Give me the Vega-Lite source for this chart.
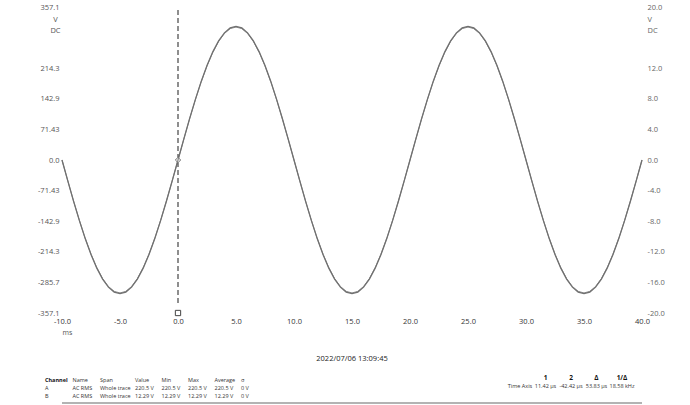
{
  "$schema": "https://vega.github.io/schema/vega-lite/v6.json",
  "padding": {"left": 37, "top": 3, "right": 5, "bottom": 0},
  "background": "white",
  "spacing": 19,
  "config": {
    "view": {"stroke": null},
    "font": "Open Sans",
    "axis": {"grid": false, "domain": false, "ticks": false, "labelOverlap": false}
  },
  "datasets": {
    "wave": [
      {"t": -10, "a": 0, "b": 0}, {"t": -9.5, "a": -48.8, "b": -2.72}, {"t": -9, "a": -96.4, "b": -5.37}, {"t": -8.5, "a": -141.6, "b": -7.89}, {"t": -8, "a": -183.4, "b": -10.22}, {"t": -7.5, "a": -220.6, "b": -12.29}, {"t": -7, "a": -252.4, "b": -14.06}, {"t": -6.5, "a": -278.0, "b": -15.49}, {"t": -6, "a": -296.7, "b": -16.53}, {"t": -5.5, "a": -308.2, "b": -17.17},
      {"t": -5, "a": -312, "b": -17.38}, {"t": -4.5, "a": -308.2, "b": -17.17}, {"t": -4, "a": -296.7, "b": -16.53}, {"t": -3.5, "a": -278.0, "b": -15.49}, {"t": -3, "a": -252.4, "b": -14.06}, {"t": -2.5, "a": -220.6, "b": -12.29}, {"t": -2, "a": -183.4, "b": -10.22}, {"t": -1.5, "a": -141.6, "b": -7.89}, {"t": -1, "a": -96.4, "b": -5.37}, {"t": -0.5, "a": -48.8, "b": -2.72},
      {"t": 0, "a": 0, "b": 0}, {"t": 0.5, "a": 48.8, "b": 2.72}, {"t": 1, "a": 96.4, "b": 5.37}, {"t": 1.5, "a": 141.6, "b": 7.89}, {"t": 2, "a": 183.4, "b": 10.22}, {"t": 2.5, "a": 220.6, "b": 12.29}, {"t": 3, "a": 252.4, "b": 14.06}, {"t": 3.5, "a": 278.0, "b": 15.49}, {"t": 4, "a": 296.7, "b": 16.53}, {"t": 4.5, "a": 308.2, "b": 17.17},
      {"t": 5, "a": 312, "b": 17.38}, {"t": 5.5, "a": 308.2, "b": 17.17}, {"t": 6, "a": 296.7, "b": 16.53}, {"t": 6.5, "a": 278.0, "b": 15.49}, {"t": 7, "a": 252.4, "b": 14.06}, {"t": 7.5, "a": 220.6, "b": 12.29}, {"t": 8, "a": 183.4, "b": 10.22}, {"t": 8.5, "a": 141.6, "b": 7.89}, {"t": 9, "a": 96.4, "b": 5.37}, {"t": 9.5, "a": 48.8, "b": 2.72},
      {"t": 10, "a": 0, "b": 0}, {"t": 10.5, "a": -48.8, "b": -2.72}, {"t": 11, "a": -96.4, "b": -5.37}, {"t": 11.5, "a": -141.6, "b": -7.89}, {"t": 12, "a": -183.4, "b": -10.22}, {"t": 12.5, "a": -220.6, "b": -12.29}, {"t": 13, "a": -252.4, "b": -14.06}, {"t": 13.5, "a": -278.0, "b": -15.49}, {"t": 14, "a": -296.7, "b": -16.53}, {"t": 14.5, "a": -308.2, "b": -17.17},
      {"t": 15, "a": -312, "b": -17.38}, {"t": 15.5, "a": -308.2, "b": -17.17}, {"t": 16, "a": -296.7, "b": -16.53}, {"t": 16.5, "a": -278.0, "b": -15.49}, {"t": 17, "a": -252.4, "b": -14.06}, {"t": 17.5, "a": -220.6, "b": -12.29}, {"t": 18, "a": -183.4, "b": -10.22}, {"t": 18.5, "a": -141.6, "b": -7.89}, {"t": 19, "a": -96.4, "b": -5.37}, {"t": 19.5, "a": -48.8, "b": -2.72},
      {"t": 20, "a": 0, "b": 0}, {"t": 20.5, "a": 48.8, "b": 2.72}, {"t": 21, "a": 96.4, "b": 5.37}, {"t": 21.5, "a": 141.6, "b": 7.89}, {"t": 22, "a": 183.4, "b": 10.22}, {"t": 22.5, "a": 220.6, "b": 12.29}, {"t": 23, "a": 252.4, "b": 14.06}, {"t": 23.5, "a": 278.0, "b": 15.49}, {"t": 24, "a": 296.7, "b": 16.53}, {"t": 24.5, "a": 308.2, "b": 17.17},
      {"t": 25, "a": 312, "b": 17.38}, {"t": 25.5, "a": 308.2, "b": 17.17}, {"t": 26, "a": 296.7, "b": 16.53}, {"t": 26.5, "a": 278.0, "b": 15.49}, {"t": 27, "a": 252.4, "b": 14.06}, {"t": 27.5, "a": 220.6, "b": 12.29}, {"t": 28, "a": 183.4, "b": 10.22}, {"t": 28.5, "a": 141.6, "b": 7.89}, {"t": 29, "a": 96.4, "b": 5.37}, {"t": 29.5, "a": 48.8, "b": 2.72},
      {"t": 30, "a": 0, "b": 0}, {"t": 30.5, "a": -48.8, "b": -2.72}, {"t": 31, "a": -96.4, "b": -5.37}, {"t": 31.5, "a": -141.6, "b": -7.89}, {"t": 32, "a": -183.4, "b": -10.22}, {"t": 32.5, "a": -220.6, "b": -12.29}, {"t": 33, "a": -252.4, "b": -14.06}, {"t": 33.5, "a": -278.0, "b": -15.49}, {"t": 34, "a": -296.7, "b": -16.53}, {"t": 34.5, "a": -308.2, "b": -17.17},
      {"t": 35, "a": -312, "b": -17.38}, {"t": 35.5, "a": -308.2, "b": -17.17}, {"t": 36, "a": -296.7, "b": -16.53}, {"t": 36.5, "a": -278.0, "b": -15.49}, {"t": 37, "a": -252.4, "b": -14.06}, {"t": 37.5, "a": -220.6, "b": -12.29}, {"t": 38, "a": -183.4, "b": -10.22}, {"t": 38.5, "a": -141.6, "b": -7.89}, {"t": 39, "a": -96.4, "b": -5.37}, {"t": 39.5, "a": -48.8, "b": -2.72},
      {"t": 40, "a": 0, "b": 0}
    ],
    "cursor": [{"t": 0, "level": 0}],
    "leftTable": [
      {"row": 1, "col": "Channel", "text": "Channel"}, {"row": 1, "col": "Name", "text": "Name"}, {"row": 1, "col": "Span", "text": "Span"}, {"row": 1, "col": "Value", "text": "Value"}, {"row": 1, "col": "Min", "text": "Min"}, {"row": 1, "col": "Max", "text": "Max"}, {"row": 1, "col": "Average", "text": "Average"}, {"row": 1, "col": "σ", "text": "σ"},
      {"row": 2, "col": "Channel", "text": "A"}, {"row": 2, "col": "Name", "text": "AC RMS"}, {"row": 2, "col": "Span", "text": "Whole trace"}, {"row": 2, "col": "Value", "text": "220.5 V"}, {"row": 2, "col": "Min", "text": "220.5 V"}, {"row": 2, "col": "Max", "text": "220.5 V"}, {"row": 2, "col": "Average", "text": "220.5 V"}, {"row": 2, "col": "σ", "text": "0 V"},
      {"row": 3, "col": "Channel", "text": "B"}, {"row": 3, "col": "Name", "text": "AC RMS"}, {"row": 3, "col": "Span", "text": "Whole trace"}, {"row": 3, "col": "Value", "text": "12.29 V"}, {"row": 3, "col": "Min", "text": "12.29 V"}, {"row": 3, "col": "Max", "text": "12.29 V"}, {"row": 3, "col": "Average", "text": "12.29 V"}, {"row": 3, "col": "σ", "text": "0 V"}
    ],
    "rightTable": [
      {"row": 1, "col": "1", "text": "1"}, {"row": 1, "col": "2", "text": "2"}, {"row": 1, "col": "Δ", "text": "Δ"}, {"row": 1, "col": "1/Δ", "text": "1/Δ"},
      {"row": 2, "col": "label", "text": "Time Axis"}, {"row": 2, "col": "1", "text": "11.42 μs"}, {"row": 2, "col": "2", "text": "-42.42 μs"}, {"row": 2, "col": "Δ", "text": "53.83 μs"}, {"row": 2, "col": "1/Δ", "text": "18.58 kHz"}
    ],
    "divider": [{"row": 3.875}]
  },
  "vconcat": [
    {
      "width": 580,
      "height": 306,
      "layer": [
        {
          "layer": [
            {
              "data": {"name": "wave"},
              "mark": {"type": "line", "color": "#707070", "strokeWidth": 1.3},
              "encoding": {
                "x": {
                  "field": "t", "type": "quantitative",
                  "scale": {"domain": [-10, 40], "nice": false, "zero": false},
                  "axis": {
                    "values": [-10, -5, 0, 5, 10, 15, 20, 25, 30, 35, 40],
                    "labelExpr": "(datum.value < 0 ? '-' : '') + format(abs(datum.value), '.1f')",
                    "labelFontSize": 7.5, "labelColor": "#333", "labelPadding": 4, "labelOverlap": false, "labelFlush": false,
                    "title": "ms", "titleX": 5, "titleY": 19, "titleAlign": "center", "titleBaseline": "middle",
                    "titleFontSize": 7, "titleFontWeight": "normal", "titleColor": "#555"
                  }
                },
                "y": {
                  "field": "a", "type": "quantitative",
                  "scale": {"domain": [-357.1, 357.1], "nice": false, "zero": false},
                  "axis": {
                    "orient": "left",
                    "values": [357.1, 214.3, 142.9, 71.43, 0, -71.43, -142.9, -214.3, -285.7, -357.1],
                    "labelExpr": "datum.value == 0 ? '0.0' : (datum.value < 0 ? '-' : '') + format(abs(datum.value), '.4~r')",
                    "labelOverlap": false,
                    "labelFontSize": 7.5, "labelColor": "#555", "labelPadding": 3,
                    "title": ["V", "DC"], "titleAngle": 0, "titleX": -7, "titleY": 8, "titleAlign": "center", "titleBaseline": "top",
                    "titleFontSize": 7.5, "titleFontWeight": "normal", "titleColor": "#555", "titleLineHeight": 11
                  }
                }
              }
            },
            {
              "data": {"name": "cursor"},
              "mark": {"type": "rule", "color": "#444", "strokeDash": [5, 3], "strokeWidth": 1.2},
              "encoding": {"x": {"field": "t", "type": "quantitative"}, "y": {"datum": 350, "axis": null}, "y2": {"datum": -335}}
            },
            {
              "data": {"name": "cursor"},
              "mark": {"type": "point", "shape": "diamond", "size": 30, "filled": true, "fill": "#e0e0e0", "stroke": "#888", "strokeWidth": 1, "opacity": 1},
              "encoding": {"x": {"field": "t", "type": "quantitative"}, "y": {"field": "level", "type": "quantitative", "axis": null}}
            },
            {
              "data": {"name": "cursor"},
              "mark": {"type": "point", "shape": "square", "size": 28, "filled": true, "fill": "white", "stroke": "#444", "strokeWidth": 1, "opacity": 1},
              "encoding": {"x": {"field": "t", "type": "quantitative"}, "y": {"datum": -357.1, "axis": null}}
            }
          ],
          "resolve": {"axis": {"y": "independent"}}
        },
        {
          "data": {"name": "wave"},
          "mark": {"type": "line", "color": "#707070", "strokeWidth": 0.8},
          "encoding": {
            "x": {"field": "t", "type": "quantitative"},
            "y": {
              "field": "b", "type": "quantitative",
              "scale": {"domain": [-20, 20], "nice": false, "zero": false},
              "axis": {
                "orient": "right",
                "values": [20, 12, 8, 4, 0, -4, -8, -12, -16, -20],
                "labelExpr": "(datum.value < 0 ? '-' : '') + format(abs(datum.value), '.1f')",
                "labelOverlap": false,
                "labelFontSize": 7.5, "labelColor": "#666", "labelPadding": 5,
                "title": ["V", "DC"], "titleAngle": 0, "titleX": 5, "titleY": 8, "titleAlign": "left", "titleBaseline": "top",
                "titleFontSize": 7.5, "titleFontWeight": "normal", "titleColor": "#666", "titleLineHeight": 11
              }
            }
          }
        }
      ],
      "resolve": {"scale": {"y": "independent"}}
    },
    {
      "width": 580,
      "height": 23,
      "title": {"text": "2022/07/06 13:09:45", "anchor": "middle", "frame": "group", "fontSize": 7.5, "fontWeight": "normal", "color": "#222", "baseline": "bottom", "offset": 5},
      "layer": [
        {
          "data": {"name": "leftTable"},
          "transform": [{"filter": "indexof(['Channel','Name','Span'], datum.col) >= 0 && !(datum.row == 1 && datum.col == 'Channel')"}],
          "mark": {"type": "text", "align": "left", "baseline": "middle", "fontSize": 5.5, "color": "#333"},
          "encoding": {
            "x": {"field": "col", "type": "nominal", "scale": {"type": "point", "domain": ["Channel", "Name", "Span"], "range": [-17, 38], "padding": 0}, "axis": null},
            "y": {"field": "row", "type": "quantitative", "scale": {"domain": [1, 3.875], "reverse": true, "nice": false, "zero": false}, "axis": null},
            "text": {"field": "text"}
          }
        },
        {
          "data": {"name": "leftTable"},
          "transform": [{"filter": "datum.row == 1 && datum.col == 'Channel'"}],
          "mark": {"type": "text", "align": "left", "baseline": "middle", "fontSize": 5.5, "fontWeight": "bold", "color": "#111"},
          "encoding": {
            "x": {"field": "col", "type": "nominal", "scale": {"type": "point", "domain": ["Channel", "Name", "Span"], "range": [-17, 38], "padding": 0}, "axis": null},
            "y": {"field": "row", "type": "quantitative", "axis": null},
            "text": {"field": "text"}
          }
        },
        {
          "data": {"name": "leftTable"},
          "transform": [{"filter": "indexof(['Value','Min','Max','Average','σ'], datum.col) >= 0"}],
          "mark": {"type": "text", "align": "left", "baseline": "middle", "fontSize": 5.5, "color": "#333"},
          "encoding": {
            "x": {"field": "col", "type": "nominal", "scale": {"type": "point", "domain": ["Value", "Min", "Max", "Average", "σ"], "range": [73, 179], "padding": 0}, "axis": null},
            "y": {"field": "row", "type": "quantitative", "axis": null},
            "text": {"field": "text"}
          }
        },
        {
          "data": {"name": "rightTable"},
          "transform": [{"filter": "datum.row == 2"}],
          "mark": {"type": "text", "align": "center", "baseline": "middle", "fontSize": 5.5, "color": "#333", "dy": -2},
          "encoding": {
            "x": {"field": "col", "type": "nominal", "scale": {"type": "point", "domain": ["label", "1", "2", "Δ", "1/Δ"], "range": [458, 560], "padding": 0}, "axis": null},
            "y": {"field": "row", "type": "quantitative", "axis": null},
            "text": {"field": "text"}
          }
        },
        {
          "data": {"name": "rightTable"},
          "transform": [{"filter": "datum.row == 1"}],
          "mark": {"type": "text", "align": "center", "baseline": "middle", "fontSize": 6.5, "fontWeight": "bold", "color": "#111", "dy": -2},
          "encoding": {
            "x": {"field": "col", "type": "nominal", "scale": {"type": "point", "domain": ["label", "1", "2", "Δ", "1/Δ"], "range": [458, 560], "padding": 0}, "axis": null},
            "y": {"field": "row", "type": "quantitative", "axis": null},
            "text": {"field": "text"}
          }
        },
        {
          "data": {"name": "divider"},
          "mark": {"type": "rule", "color": "#9a9a9a", "strokeWidth": 1.5},
          "encoding": {"y": {"field": "row", "type": "quantitative", "axis": null}}
        }
      ],
      "resolve": {"scale": {"x": "independent"}}
    }
  ]
}
